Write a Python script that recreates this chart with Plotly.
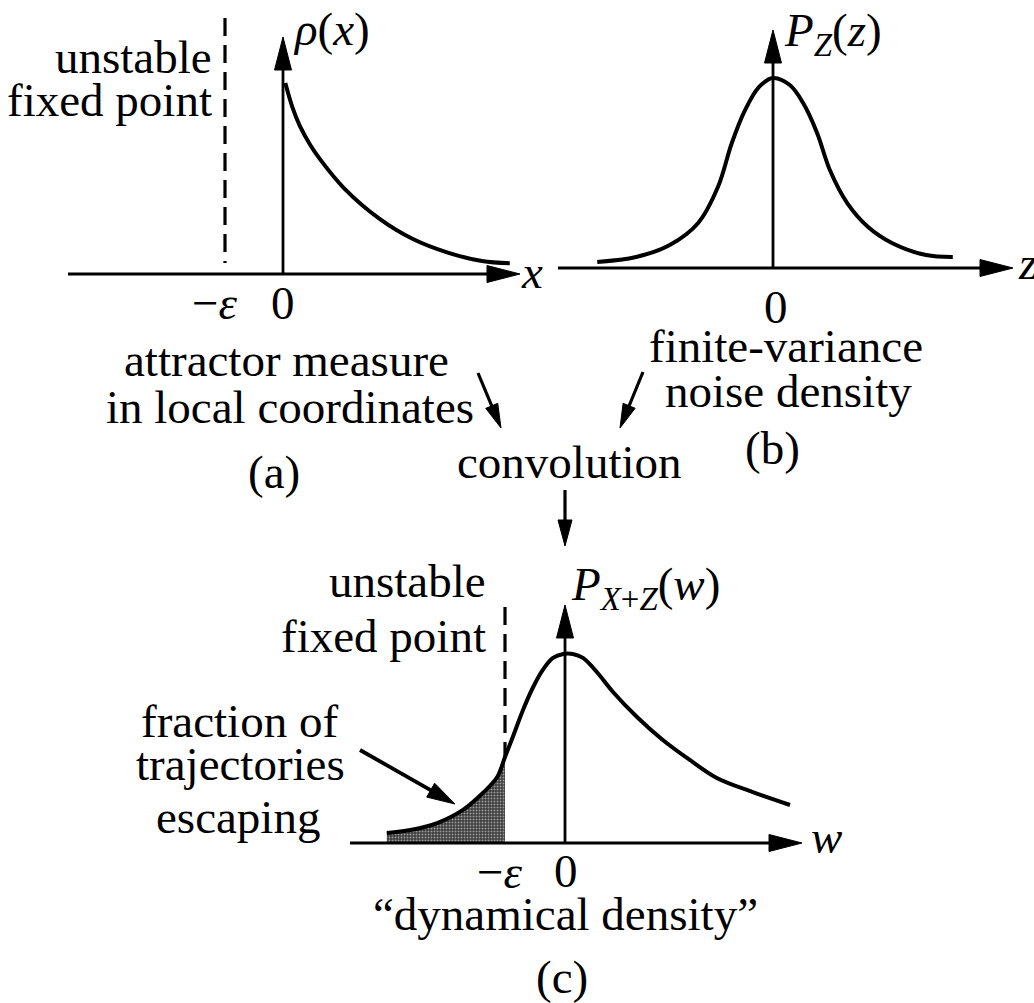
import numpy as np
import plotly.graph_objects as go

W, H = 1034, 1003
FONT = "Liberation Serif"
SIZE = 47

# ---------------------------------------------------------------- data
EPS = 1.0  # distance of the unstable fixed point from the origin

# (a) attractor measure rho(x) in local coordinates
rho_x = [0.04, 0.16, 0.29, 0.47, 0.64, 1.05, 1.66, 2.24, 2.84, 3.43, 3.91]
rho_y = [1.00, 0.875, 0.775, 0.675, 0.600, 0.450, 0.290, 0.183, 0.112, 0.068, 0.056]

# (b) finite-variance noise density P_Z(z)
noise_z = [-3.03, -2.36, -1.78, -1.29, -0.95, -0.71, -0.48, -0.24, 0.0,
           0.29, 0.52, 0.76, 0.98, 1.28, 1.64, 2.05, 2.64, 3.10]
noise_p = [0.032, 0.058, 0.121, 0.237, 0.426, 0.658, 0.832, 0.953, 1.0,
           0.963, 0.868, 0.711, 0.516, 0.342, 0.216, 0.132, 0.068, 0.058]

# (c) dynamical density P_{X+Z}(w)
dyn_w = [-2.97, -2.58, -2.13, -1.70, -1.37, -1.13, -1.00, -0.87, -0.70, -0.53,
         -0.37, -0.20, -0.03, 0.13, 0.30, 0.53, 0.80, 1.20, 1.63, 2.08, 2.53,
         3.13, 3.75]
dyn_p = [0.053, 0.068, 0.105, 0.174, 0.263, 0.347, 0.453, 0.558, 0.700, 0.821,
         0.911, 0.974, 0.995, 0.995, 0.974, 0.900, 0.795, 0.663, 0.542, 0.437,
         0.342, 0.268, 0.200]

# ---------------------------------------------------------------- geometry
# each panel: pixel origin, pixel size of one unit, visible axis ranges
PANELS = {
    "a": dict(ox=283, oy=274, ux=58, uy=191, xr=[-4.5, 4.6], yr=[-0.12, 1.40],
              x0=68, x1=520, ytop=37),
    "b": dict(ox=773, oy=268, ux=58, uy=190, xr=[-3.8, 4.4], yr=[-0.12, 1.35],
              x0=558, x1=1013, ytop=30),
    "c": dict(ox=565, oy=843, ux=60, uy=190, xr=[-3.6, 4.2], yr=[-0.12, 1.30],
              x0=350, x1=802, ytop=605),
}


def X(px):
    return px / W


def Y(py):
    return 1 - py / H


def x_domain(p):
    return [X(p["ox"] + p["xr"][0] * p["ux"]), X(p["ox"] + p["xr"][1] * p["ux"])]


def y_domain(p):
    return [Y(p["oy"] - p["yr"][0] * p["uy"]), Y(p["oy"] - p["yr"][1] * p["uy"])]


shapes = []


def line(p0, p1, width=3, dash=None):
    shapes.append(dict(type="line", xref="paper", yref="paper",
                       x0=X(p0[0]), y0=Y(p0[1]), x1=X(p1[0]), y1=Y(p1[1]),
                       line=dict(color="black", width=width,
                                 dash=dash if dash else "solid")))


def arrow(start, tip, width=3, L=33, hw=8.5):
    s = np.array(start, float)
    t = np.array(tip, float)
    d = (t - s) / np.linalg.norm(t - s)
    n = np.array([-d[1], d[0]])
    b = t - L * d
    line(s, t - (L - 4) * d, width)
    p1 = b + hw * n
    p2 = b - hw * n
    path = (f"M {X(t[0])},{Y(t[1])} L {X(p1[0])},{Y(p1[1])} "
            f"L {X(p2[0])},{Y(p2[1])} Z")
    shapes.append(dict(type="path", xref="paper", yref="paper", path=path,
                       fillcolor="black", line=dict(color="black", width=1)))


# coordinate axes of the three panels
for key, p in PANELS.items():
    arrow((p["x0"], p["oy"]), (p["x1"], p["oy"]), width=3.2)
    arrow((p["ox"], p["oy"]), (p["ox"], p["ytop"]), width=2.8)

# unstable fixed points at -eps
pa, pc = PANELS["a"], PANELS["c"]
line((pa["ox"] - EPS * pa["ux"], 18), (pa["ox"] - EPS * pa["ux"], pa["oy"] - 11),
     width=3.2, dash="18px,9px")
p_eps = dyn_p[dyn_w.index(-EPS)]
line((pc["ox"] - EPS * pc["ux"], 607), (pc["ox"] - EPS * pc["ux"], pc["oy"] - p_eps * pc["uy"]),
     width=3.2, dash="18px,9px")

# pointer arrows between the panels
arrow((478, 373), (501, 428), width=3.2, L=24, hw=6.5)
arrow((643, 372), (620, 428), width=3.2, L=24, hw=6.5)
arrow((565, 490), (565, 546), width=3.2, L=26, hw=7)
arrow((360, 750), (455, 804), width=3.8, L=28, hw=8)

# ---------------------------------------------------------------- traces
fig = go.Figure()
curve = dict(color="black", width=4, shape="spline", smoothing=1.0)

fig.add_trace(go.Scatter(x=rho_x, y=rho_y, mode="lines", line=curve,
                         xaxis="x", yaxis="y", hoverinfo="skip"))
fig.add_trace(go.Scatter(x=noise_z, y=noise_p, mode="lines", line=curve,
                         xaxis="x2", yaxis="y2", hoverinfo="skip"))

esc_w = [w for w in dyn_w if w <= -EPS]
esc_p = dyn_p[:len(esc_w)]
fig.add_trace(go.Scatter(x=esc_w, y=esc_p, mode="lines", fill="tozeroy",
                         line=dict(color="black", width=0.5, shape="spline", smoothing=1.0),
                         fillcolor="#444444",
                         fillpattern=dict(shape=".", fgcolor="#ffffff", bgcolor="#3a3a3a",
                                          size=3, solidity=0.35),
                         xaxis="x3", yaxis="y3", hoverinfo="skip"))
fig.add_trace(go.Scatter(x=dyn_w, y=dyn_p, mode="lines", line=curve,
                         xaxis="x3", yaxis="y3", hoverinfo="skip"))

# ---------------------------------------------------------------- text
annotations = []


def text(s, x, y, anchor="center", size=SIZE):
    annotations.append(dict(text=s, x=X(x), y=Y(y), xref="paper", yref="paper",
                            xanchor=anchor, yanchor="middle", showarrow=False,
                            font=dict(family=FONT, size=size, color="black")))


# panel (a)
text("unstable", 214, 57, "right")
text("fixed point", 214, 100, "right")
text("<i>ρ</i>(<i>x</i>)", 291, 29, "left")
text("−<i>ε</i>", 215, 303)
text("0", 283, 303)
text("<i>x</i>", 519, 272, "left")
text("attractor measure", 286, 360)
text("in local coordinates", 290, 407)
text("(a)", 274, 472)

# panel (b)
text("<i>P</i><sub><i>Z</i></sub>(<i>z</i>)", 782, 33, "left")
text("0", 776, 307)
text("<i>z</i>", 1016, 263, "left")
text("finite-variance", 786, 346)
text("noise density", 788, 391)
text("(b)", 772, 448)

text("convolution", 569, 462)

# panel (c)
text("unstable", 488, 581, "right")
text("fixed point", 488, 636, "right")
text("<i>P</i><sub><i>X</i>+<i>Z</i></sub>(<i>w</i>)", 569, 587, "left")
text("fraction of", 239, 721)
text("trajectories", 240, 764)
text("escaping", 238, 817)
text("−<i>ε</i>", 500, 872)
text("0", 566, 871)
text("<i>w</i>", 809, 837, "left")
text("“dynamical density”", 565, 914)
text("(c)", 562, 977)

# ---------------------------------------------------------------- layout
hidden = dict(visible=False, fixedrange=True)
layout_axes = {}
for i, key in enumerate(["a", "b", "c"]):
    p = PANELS[key]
    sx = "" if i == 0 else str(i + 1)
    layout_axes["xaxis" + sx] = dict(domain=x_domain(p), range=p["xr"],
                                     anchor="y" + sx, **hidden)
    layout_axes["yaxis" + sx] = dict(domain=y_domain(p), range=p["yr"],
                                     anchor="x" + sx, **hidden)

fig.update_layout(
    width=W, height=H,
    margin=dict(l=0, r=0, t=0, b=0),
    paper_bgcolor="white", plot_bgcolor="white",
    showlegend=False,
    shapes=shapes,
    annotations=annotations,
    font=dict(family=FONT, color="black"),
    **layout_axes,
)

fig.write_html("out.html", config={"displayModeBar": False})
